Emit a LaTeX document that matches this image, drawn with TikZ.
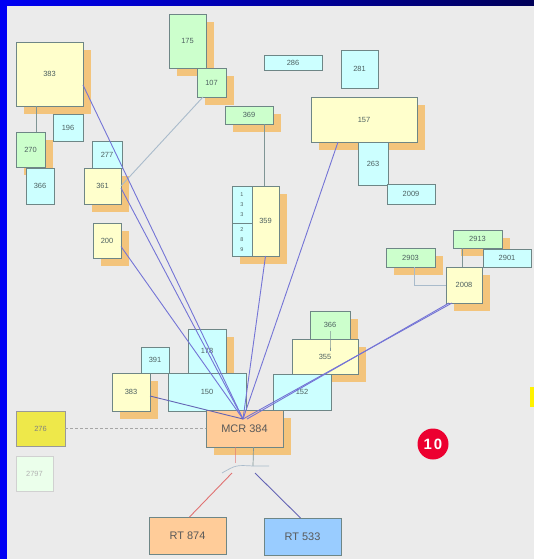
\documentclass[tikz,border=0pt]{standalone}
\usepackage{fontspec}
\setmainfont{Liberation Sans}
\usetikzlibrary{calc}

\definecolor{bgc}{HTML}{EBEBEB}
\definecolor{framec}{HTML}{0000F4}
\definecolor{framedark}{HTML}{000058}
\definecolor{edgec}{HTML}{6E8686}
\definecolor{yel}{HTML}{FFFFCC}
\definecolor{cya}{HTML}{CCFFFF}
\definecolor{grn}{HTML}{CCFFCC}
\definecolor{org}{HTML}{FFCC99}
\definecolor{blu}{HTML}{99CCFF}
\definecolor{shadowc}{HTML}{F3C47C}
\definecolor{labelc}{HTML}{4D6060}
\definecolor{linkc}{HTML}{7474D6}
\definecolor{softlink}{HTML}{A9BBCB}
\definecolor{thinc}{HTML}{7F9595}
\definecolor{redlink}{HTML}{E07272}
\definecolor{bluelink}{HTML}{6464B4}
\definecolor{badgec}{HTML}{EC0030}
\definecolor{mustard}{HTML}{EEE84A}

\tikzset{
  box/.style={draw=edgec, line width=0.8bp, inner sep=0pt, outer sep=0pt,
    text=labelc, font=\fontsize{7.5}{8}\selectfont},
  bigbox/.style={box, font=\fontsize{11}{12}\selectfont, text=black!65},
  colbox/.style={fill=cya, align=center, font=\fontsize{5.5}{10}\selectfont},
  link/.style={draw=linkc, line width=0.9bp},
  softline/.style={draw=softlink, line width=0.9bp},
  thinline/.style={draw=thinc, line width=0.7bp},
}

% plain box by its corners: style, name, x1, y1, x2, y2, label
\newcommand\bx[7]{%
  \node[box,#1,minimum width={(#5-#3)*1bp},minimum height={(#6-#4)*1bp}]
    (#2) at ({(#3+#5)/2},{(#4+#6)/2}) {#7};}
% same box with an orange drop shadow behind it
\newcommand\sbx[7]{%
  \fill[shadowc] ({#3+8},{#4+8}) rectangle ({#5+8},{#6+8});
  \bx{#1}{#2}{#3}{#4}{#5}{#6}{#7}}

\begin{document}
\begin{tikzpicture}[x=1bp,y=-1bp]
\useasboundingbox (0,0) rectangle (534,559);
% backdrop and frame
\fill[bgc] (0,0) rectangle (534,559);
\shade[left color=framec, right color=framedark] (0,0) rectangle (534,6);
\fill[framec] (0,0) rectangle (7,559);
\fill[yellow] (530,387) rectangle (534,407);

% upper left group
\sbx{fill=yel}{b383}{16}{42}{83}{106}{383}
\bx{fill=cya}{b196}{53}{114}{83}{141}{196}
\sbx{fill=grn}{b270}{16}{132}{45}{167}{270}
\bx{fill=cya}{b366a}{26}{168}{54}{204}{366}
\bx{fill=cya}{b277}{92}{141}{122}{168}{277}
\sbx{fill=yel}{b361}{84}{168}{121}{204}{361}
\sbx{fill=yel}{b200}{93}{223}{121}{258}{200}

% upper middle group
\sbx{fill=grn}{b175}{169}{14}{206}{68}{175}
\sbx{fill=grn}{b107}{197}{68}{226}{97}{107}
\sbx{fill=grn}{b369}{225}{106}{273}{124}{369}
\bx{fill=cya}{b286}{264}{55}{322}{70}{286}
\bx{fill=cya}{b281}{341}{50}{378}{88}{281}
\sbx{fill=yel}{b157}{311}{97}{417}{142}{157}
\bx{fill=cya}{b263}{358}{142}{388}{185}{263}
\bx{fill=cya}{b2009}{387}{184}{435}{204}{2009}

% 359 with its split side column
\fill[shadowc] (240,194) rectangle (287,264);
\bx{fill=yel}{b359}{252}{186}{279}{256}{359}
\bx{colbox}{b359a}{232}{186}{252}{223}{1\\3\\3}
\bx{colbox}{b359b}{232}{223}{252}{256}{2\\8\\9}

% right group
\sbx{fill=grn}{b2913}{453}{230}{502}{248}{2913}
\bx{fill=cya}{b2901}{483}{249}{531}{267}{2901}
\sbx{fill=grn}{b2903}{386}{248}{435}{267}{2903}
\sbx{fill=yel}{b2008}{446}{267}{482}{303}{2008}

% cluster above MCR 384
\sbx{fill=grn}{b366b}{310}{311}{350}{339}{366}
\sbx{fill=yel}{b355}{292}{339}{358}{374}{355}
\bx{fill=cya}{b152}{273}{374}{331}{410}{152}
\sbx{fill=cya}{b178}{188}{329}{226}{373}{178}
\bx{fill=cya}{b391}{141}{347}{169}{373}{391}
\sbx{fill=yel}{b383b}{112}{373}{150}{411}{383}
\bx{fill=cya}{b150}{168}{373}{246}{411}{150}
\sbx{bigbox,fill=org}{mcr}{206}{410}{283}{447}{MCR 384}

% lower left
\bx{fill=mustard,draw=black!40,text=black!50}{b276}{16}{411}{65}{446}{276}
\bx{fill=green!8,draw=black!18,text=black!30}{b2797}{16}{456}{53}{491}{2797}

% bottom pair
\bx{bigbox,fill=org}{rt874}{149}{517}{226}{554}{RT 874}
\bx{bigbox,fill=blu}{rt533}{264}{518}{341}{555}{RT 533}

% short joins between neighbouring boxes
\draw[thinline] ([xshift=6bp]b270.north) -- ([xshift=6bp]b270.north |- b383.south);
\draw[thinline] ([xshift=-1bp]b359.north) -- ([xshift=-1bp]b359.north |- b369.south);
\draw[thinline] ([yshift=-6bp]b366b.center) -- ([yshift=-6bp]b366b.center |- b355.north) -- ++(0,6);
\draw[softline] ([xshift=4bp]b2903.south) |- (b2008.west);
\draw[thinline] ([xshift=-15bp]b2913.south) -- ([xshift=-15bp]b2913.south |- b2008.north);
\draw[softline] ([xshift=6bp]b107.south west) -- (b361.east);
\draw[thinline, dashed, dash pattern=on 3bp off 2bp, draw=black!35] (b276.east) -- (mcr.west);

% links gathering at MCR 384
\coordinate (hub) at (243,419);
\draw[link] ([yshift=-11bp]b383.east) -- (hub);
\draw[link] ([yshift=-2bp]b361.east) -- (hub);
\draw[link] ([yshift=-6bp]b200.east) -- (hub);
\draw[link] (b359.south) -- (hub);
\draw[link] ([xshift=-26bp]b157.south) -- (hub);
\draw[link] ([xshift=6bp]b2008.south west) -- (hub);
\draw[link] ([xshift=3bp]b2008.south west) -- ([xshift=4bp]hub);
\draw[link, draw=bluelink] ([yshift=-4bp]b383b.east) -- (hub);

% split below MCR 384 towards the two RT boxes
\coordinate (stem) at (253,466);
\coordinate (hopL) at (222,473);
\coordinate (hopR) at (269,466);
\coordinate (tapR) at (232,473);
\coordinate (tapB) at (255,473);
\draw[thinline] ([xshift=9bp]mcr.south) -- (stem);
\draw[redlink, line width=0.7bp, opacity=0.6] ([xshift=-9bp]mcr.south) -- ++(0,16);
\draw[thinline, draw=softlink] (hopL) .. controls (236,465) .. (stem) -- (hopR);
\draw[redlink, line width=0.9bp] (tapR) -- ([xshift=2bp]rt874.north);
\draw[bluelink, line width=0.9bp] (tapB) -- ([xshift=-2bp]rt533.north);

% page number badge
\node[circle, fill=badgec, minimum size=31bp, inner sep=0pt, text=white,
  font=\fontsize{15}{15}\selectfont\bfseries] (badge) at (433,444) {1\hspace{2bp}0};
\end{tikzpicture}
\end{document}
